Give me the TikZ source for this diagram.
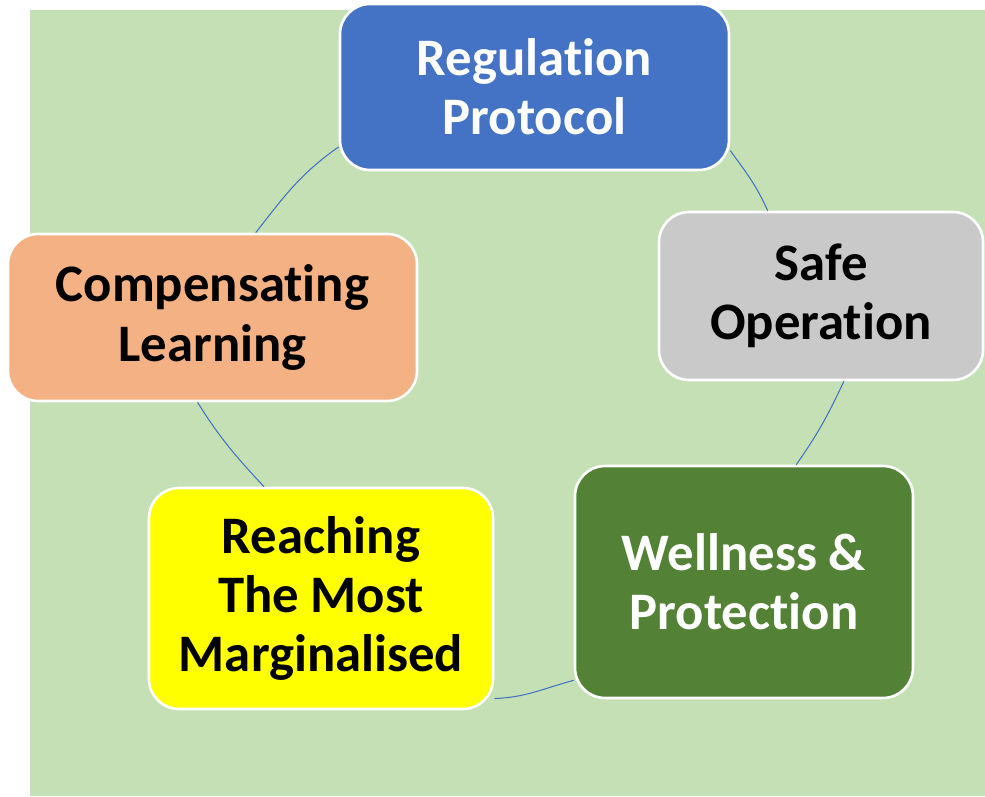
\documentclass[tikz,border=0pt]{standalone}
\usepackage{fontspec}
\setmainfont{Carlito}[Ligatures=NoCommon]
\newcommand{\tnolig}{t\kern0pt i}
\definecolor{bggreen}{HTML}{C5E0B4}
\definecolor{regblue}{HTML}{4472C4}
\definecolor{safegray}{HTML}{C9C9C9}
\definecolor{wellgreen}{HTML}{538135}
\definecolor{reachyellow}{HTML}{FFFF00}
\definecolor{comporange}{HTML}{F4B183}
\definecolor{linkblue}{HTML}{4472C4}
\begin{document}
\begin{tikzpicture}[x=0.02cm,y=0.02cm,
  cyclebox/.style={draw=white, line width=1.5pt, rounded corners=0.6cm,
    align=center, inner sep=0pt,
    font=\fontsize{30}{33.8}\selectfont\bfseries},
  link/.style={draw=linkblue, line width=0.6pt}]
\useasboundingbox (0,0) rectangle (985,796);
\fill[bggreen] (30,0) rectangle (985,786);
\node[cyclebox, fill=regblue, text=white, minimum width=7.78cm, minimum height=3.32cm] (reg) at (534.5,709) {Regula\tnolig on\\Protocol};
\node[cyclebox, fill=safegray, text=black, minimum width=6.48cm, minimum height=3.36cm] (safe) at (821,500) {Safe\\Opera\tnolig on};
\node[cyclebox, fill=wellgreen, text=white, minimum width=6.76cm, minimum height=4.64cm] (well) at (744,214) {Wellness \&\\Protec\tnolig on};
\node[cyclebox, fill=reachyellow, text=black, minimum width=6.88cm, minimum height=4.42cm] (reach) at (321,197.5) {Reaching\\The Most\\Marginalised};
\node[cyclebox, fill=comporange, text=black, minimum width=8.18cm, minimum height=3.34cm] (comp) at (212.5,478.5) {Compensa\tnolig ng\\Learning};
\draw[link] (comp.63.4) to[out=52,in=215] (reg.197.4);
\draw[link] (reg.342.1) to[out=-54,in=114] (safe.122.4);
\draw[link] (safe.285.5) to[out=245,in=55] (well.66.5);
\draw[link] (well.210.8) to[out=195,in=2] (reach.330.7);
\draw[link] (reach.117.6) to[out=133,in=302] (comp.260.4);
\end{tikzpicture}
\end{document}
